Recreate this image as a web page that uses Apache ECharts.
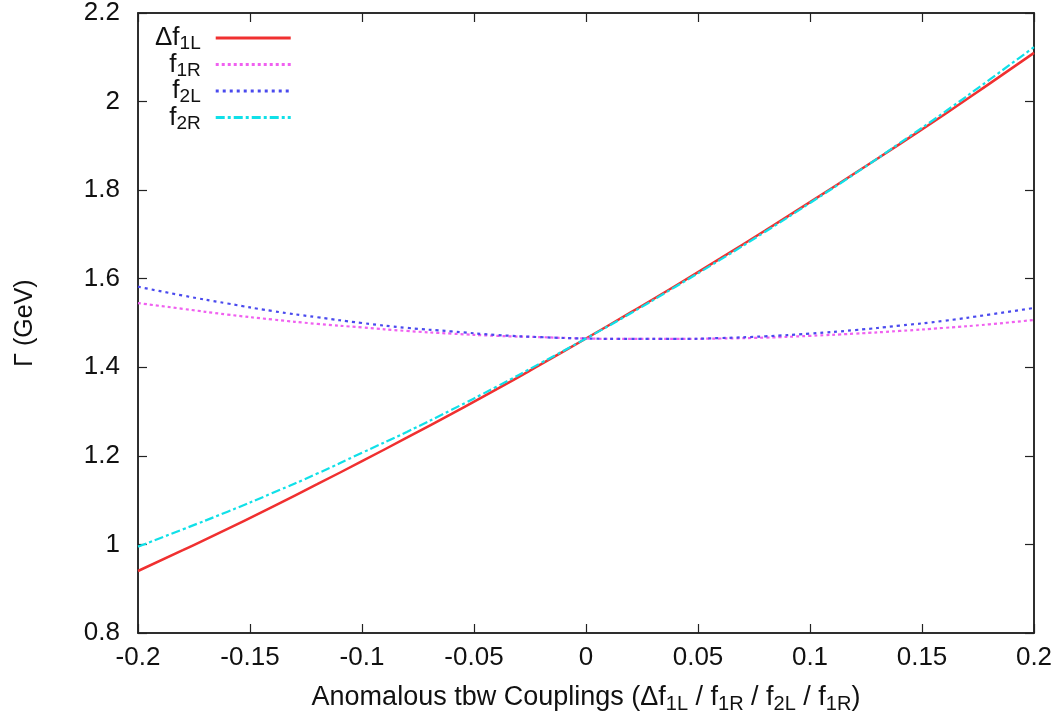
<!DOCTYPE html>
<html><head><meta charset="utf-8">
<script src="https://cdn.jsdelivr.net/npm/echarts@6/dist/echarts.min.js"></script>
<style>html,body{margin:0;padding:0;background:#fff}#c{width:1062px;height:722px}</style>
</head><body><div id="c"></div>
<script>
const xs = [-0.2,-0.18,-0.16,-0.14,-0.12,-0.1,-0.08,-0.06,-0.04,-0.02,0,0.02,0.04,0.06,0.08,0.1,0.12,0.14,0.16,0.18,0.2];
const df1L = [0.940,0.987,1.035,1.085,1.136,1.188,1.241,1.295,1.350,1.407,1.465,1.524,1.584,1.646,1.709,1.773,1.838,1.904,1.971,2.040,2.110];
const f1R = [1.545,1.532,1.519,1.508,1.498,1.490,1.482,1.476,1.471,1.468,1.465,1.464,1.464,1.465,1.467,1.471,1.476,1.482,1.489,1.497,1.507];
const f2L = [1.582,1.562,1.544,1.527,1.513,1.500,1.489,1.481,1.473,1.468,1.465,1.464,1.464,1.466,1.470,1.476,1.484,1.494,1.505,1.519,1.534];
const f2R = [0.995,1.034,1.074,1.116,1.160,1.207,1.254,1.304,1.356,1.410,1.465,1.522,1.582,1.643,1.706,1.771,1.837,1.906,1.976,2.049,2.123];
const seriesNames = ['Δf1L','f1R','f2L','f2R'];
const legendRich = {'Δf1L':'{m|Δf}{s|1L}{g|}','f1R':'{m|f}{s|1R}{g|}','f2L':'{m|f}{s|2L}{g|}','f2R':'{m|f}{s|2R}{g|}'};

const font = 'Liberation Sans, Arial, sans-serif';
const pair = (ys) => xs.map((x,i)=>[x,ys[i]]);
const chart = echarts.init(document.getElementById('c'));
const axisLine = {show:true, onZero:false, lineStyle:{color:'#222', width:1.5}};
const tick = {inside:true, length:9, lineStyle:{color:'#222', width:1.2}};
chart.setOption({
  animation:false,
  grid:{left:138, right:28, top:13, bottom:89, show:true, borderColor:'#222', borderWidth:1.5, containLabel:false, outerBoundsMode:'none'},
  legend:{
    left:150, top:20, orient:'vertical', align:'right', itemWidth:75, itemHeight:14, itemGap:-2,
    data:seriesNames,
    formatter:(n)=>legendRich[n],
    itemStyle:{opacity:0},
    lineStyle:{opacity:1, width:3},
    textStyle:{fontFamily:font, color:'#111', rich:{
      m:{fontSize:26, lineHeight:24, fontFamily:font, color:'#111'},
      s:{fontSize:19, fontFamily:font, color:'#111', padding:[12,0,0,0]},
      g:{width:10}
    }}
  },
  xAxis:[{
    type:'value', min:-0.2, max:0.2, interval:0.05,
    axisLine, axisTick:tick, splitLine:{show:false},
    axisLabel:{fontSize:26, fontFamily:font, color:'#111', margin:12, formatter:(v)=>String(Math.round(v*100)/100)},
    name:'{t|Anomalous tbw Couplings (Δf}{s|1L}{t| / f}{s|1R}{t| / f}{s|2L}{t| / f}{s|1R}{t|)}',
    nameLocation:'middle', nameGap:49,
    nameTextStyle:{rich:{t:{fontSize:27, fontFamily:font, color:'#111'}, s:{fontSize:20, fontFamily:font, color:'#111', padding:[12,0,0,0]}}}
  },{
    type:'value', min:-0.2, max:0.2, interval:0.05, position:'top',
    axisLine, axisTick:tick, axisLabel:{show:false}, splitLine:{show:false}
  }],
  yAxis:[{
    type:'value', min:0.8, max:2.2, interval:0.2,
    axisLine, axisTick:tick, splitLine:{show:false},
    axisLabel:{fontSize:26, fontFamily:font, color:'#111', margin:18, formatter:(v)=>String(Math.round(v*10)/10)},
    name:'Γ (GeV)', nameLocation:'middle', nameGap:100, nameRotate:90,
    nameTextStyle:{fontSize:25, fontFamily:font, color:'#111'}
  },{
    type:'value', min:0.8, max:2.2, interval:0.2, position:'right',
    axisLine, axisTick:tick, axisLabel:{show:false}, splitLine:{show:false}
  }],
  series:[
    {name:'Δf1L', type:'line', smooth:true, showSymbol:false, symbol:'none', data:pair(df1L), z:3,
     lineStyle:{color:'#f03030', width:2.5}, itemStyle:{color:'#f03030'}},
    {name:'f1R', type:'line', smooth:true, showSymbol:false, symbol:'none', data:pair(f1R), z:4,
     lineStyle:{color:'#f060f0', width:2.2, type:[3,3]}, itemStyle:{color:'#f060f0'}},
    {name:'f2L', type:'line', smooth:true, showSymbol:false, symbol:'none', data:pair(f2L), z:5,
     lineStyle:{color:'#4a4aee', width:2.2, type:[3,4]}, itemStyle:{color:'#4a4aee'}},
    {name:'f2R', type:'line', smooth:true, showSymbol:false, symbol:'none', data:pair(f2R), z:6,
     lineStyle:{color:'#10e0e8', width:2.2, type:[9,3,3,3]}, itemStyle:{color:'#10e0e8'}}
  ]
});
</script></body></html>
